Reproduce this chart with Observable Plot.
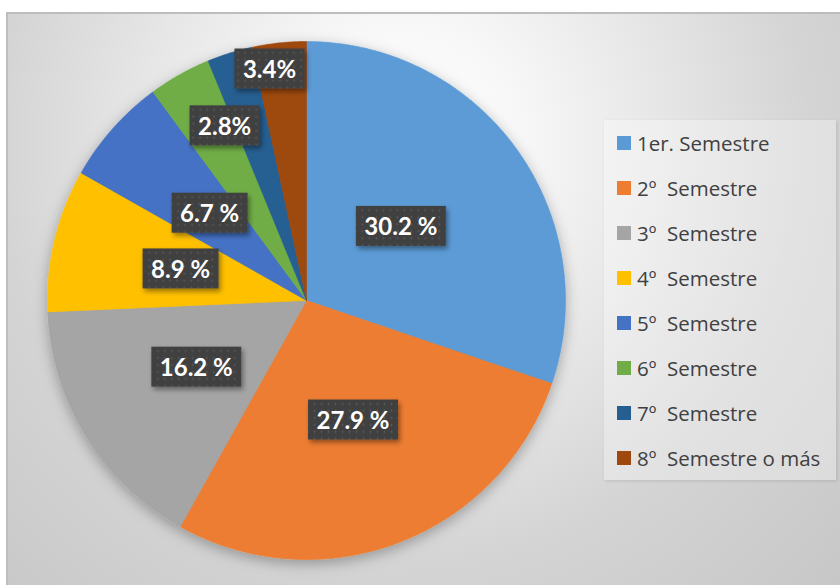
<!DOCTYPE html>
<html>
<head>
<meta charset="utf-8">
<script src="https://cdn.jsdelivr.net/npm/d3@7"></script>
<script src="https://cdn.jsdelivr.net/npm/@observablehq/plot@0.6"></script>
<style>
  html, body { margin: 0; padding: 0; background: #ffffff; width: 840px; height: 585px; overflow: hidden; }
  #frame {
    position: absolute; left: 6px; top: 12px; width: 840px; height: 590px;
    border-top: 2px solid #bdbdbd; border-left: 2px solid #bdbdbd; box-sizing: border-box;
    background: radial-gradient(ellipse farthest-corner at 47% 22%, #ffffff 0%, #f8f8f8 18%, #e6e6e6 42%, #d4d4d4 65%, #c6c6c6 100%);
  }
  #chart { position: absolute; left: 0; top: 0; }
  #legend {
    position: absolute; left: 604px; top: 120px; width: 232px; height: 360px;
    background: rgba(255,255,255,0.32);
    box-shadow: 1px 1px 3px rgba(0,0,0,0.12);
    font-family: "Open Sans", Lato, sans-serif; font-size: 20.5px; color: #404040;
  }
  .item { height: 45px; display: flex; align-items: center; white-space: pre; }
  .sw { width: 14px; height: 14px; margin-left: 13px; margin-right: 6px; flex: none; }
</style>
</head>
<body>
<div id="frame"></div>
<div id="chart"></div>
<div id="legend"></div>
<script>
const categories = ["1er. Semestre", "2º  Semestre", "3º  Semestre", "4º  Semestre", "5º  Semestre", "6º  Semestre", "7º  Semestre", "8º  Semestre o más"];
const values = [30.2, 27.9, 16.2, 8.9, 6.7, 3.9, 2.8, 3.4];
const labels = ["30.2 %", "27.9 %", "16.2 %", "8.9 %", "6.7 %", null, "2.8%", "3.4%"];
const colors = ["#5B9BD5", "#ED7D31", "#A5A5A5", "#FFC000", "#4472C4", "#70AD47", "#255E91", "#9E480E"];

// layout tweaks for label placement (fraction of radius, angle offset in degrees)
const labelPlacement = {
  "1er. Semestre": {r: 0.46, da: -2},
  "7º  Semestre": {r: 0.74, da: -8},
  "8º  Semestre o más": {r: 0.9, da: -3}
};

const total = d3.sum(values);
const slices = [];
const labelData = [];
let acc = 0;
categories.forEach((cat, i) => {
  const a0 = acc / total * 2 * Math.PI;
  acc += values[i];
  const a1 = acc / total * 2 * Math.PI;
  const pts = [{cat, x: 0, y: 0}];
  const n = Math.max(2, Math.ceil((a1 - a0) / (Math.PI / 360)));
  for (let k = 0; k <= n; k++) {
    const a = a0 + (a1 - a0) * k / n;
    pts.push({cat, x: Math.sin(a), y: Math.cos(a)});
  }
  pts.push({cat, x: 0, y: 0});
  slices.push(...pts);
  if (labels[i]) {
    const p = labelPlacement[cat] || {r: 0.5, da: 0};
    const m = (a0 + a1) / 2 + p.da * Math.PI / 180;
    labelData.push({cat, text: labels[i], x: p.r * Math.sin(m), y: p.r * Math.cos(m)});
  }
});

const plot = Plot.plot({
  width: 840,
  height: 585,
  marginLeft: 47,
  marginRight: 275,
  marginTop: 41,
  marginBottom: 26,
  style: {background: "transparent", overflow: "visible"},
  x: {domain: [-1, 1], axis: null},
  y: {domain: [-1, 1], axis: null},
  color: {domain: categories, range: colors},
  marks: [
    Plot.line(slices, {x: "x", y: "y", z: "cat", fill: "cat", stroke: "cat", strokeWidth: 0.6, curve: "linear"}),
    Plot.text(labelData, {x: "x", y: "y", text: "text", fill: "white", fontWeight: "bold", fontSize: 24, fontFamily: "Lato, 'Open Sans', sans-serif"})
  ]
});
document.getElementById("chart").append(plot);

// decorations: shadows and dotted label boxes
const ns = "http://www.w3.org/2000/svg";
const defs = document.createElementNS(ns, "defs");
defs.innerHTML = `
  <pattern id="dots" width="7" height="7" patternUnits="userSpaceOnUse">
    <rect width="7" height="7" fill="#404040"/>
    <circle cx="3.5" cy="3.5" r="0.9" fill="#5c5c5c"/>
  </pattern>
  <filter id="boxShadow" x="-20%" y="-30%" width="150%" height="180%">
    <feDropShadow dx="2" dy="3" stdDeviation="2.5" flood-color="#000" flood-opacity="0.4"/>
  </filter>
  <filter id="pieShadow" x="-10%" y="-10%" width="120%" height="125%">
    <feDropShadow dx="0" dy="4" stdDeviation="7" flood-color="#000" flood-opacity="0.3"/>
  </filter>`;
plot.insertBefore(defs, plot.firstChild);
const lineG = plot.querySelector('g[aria-label="line"]');
if (lineG) lineG.setAttribute("filter", "url(#pieShadow)");
plot.querySelectorAll('g[aria-label="text"] text').forEach(t => {
  const bb = t.getBBox();
  const cy = bb.y + bb.height / 2;
  const r = document.createElementNS(ns, "rect");
  r.setAttribute("x", bb.x - 8.5);
  r.setAttribute("y", cy - 20);
  r.setAttribute("width", bb.width + 17);
  r.setAttribute("height", 40);
  r.setAttribute("fill", "url(#dots)");
  r.setAttribute("filter", "url(#boxShadow)");
  if (t.getAttribute("transform")) r.setAttribute("transform", t.getAttribute("transform"));
  t.parentNode.insertBefore(r, t);
});

// legend
const legend = document.getElementById("legend");
categories.forEach((c, i) => {
  const it = document.createElement("div");
  it.className = "item";
  const sw = document.createElement("span");
  sw.className = "sw";
  sw.style.background = plot.scale("color").apply(c);
  const tx = document.createElement("span");
  tx.textContent = c;
  it.append(sw, tx);
  legend.append(it);
});
</script>
</body>
</html>
